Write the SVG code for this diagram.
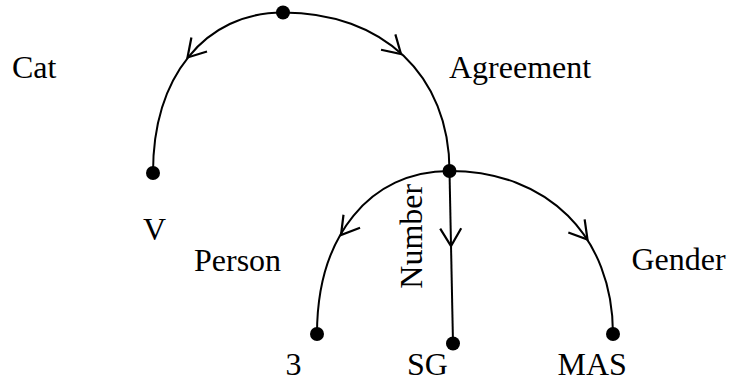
<svg xmlns="http://www.w3.org/2000/svg" xmlns:xlink="http://www.w3.org/1999/xlink" width="733" height="392" viewBox="0 0 733 392">
  <style>
    .edge { fill: none; stroke: #000; stroke-width: 2; }
    .head { fill: none; stroke: #000; stroke-width: 2.2; stroke-linejoin: miter; stroke-linecap: butt; }
    .dot { fill: #000; }
    .lbl { font-family: "Liberation Serif", "Times New Roman", serif; font-size: 32px; fill: #000; }
  </style>
  <defs>
    <path id="chev" class="head" d="M-17.5,-10.5 L0,0 L-17.5,10.5"/>
  </defs>
  <rect width="733" height="392" fill="#fff"/>

  <g id="connectors">
    <path class="edge" d="M283,12.5 C205,12.5 153,76.4 153,173"/>
    <path class="edge" d="M283,12.5 C382.6,12.5 449.5,75.2 449.5,171"/>
    <path class="edge" d="M449.5,171 C369.8,171 317,236.2 317,334"/>
    <path class="edge" d="M449.5,171 L453,343.5"/>
    <path class="edge" d="M449.5,171 C547.4,171 613,236.2 613,334"/>
    <use xlink:href="#chev" transform="translate(187.5,57.5) rotate(132)"/>
    <use xlink:href="#chev" transform="translate(401,54) rotate(43)"/>
    <use xlink:href="#chev" transform="translate(341,235) rotate(128)"/>
    <use xlink:href="#chev" transform="translate(451,246) rotate(89)"/>
    <use xlink:href="#chev" transform="translate(587.5,239.5) rotate(51)"/>
  </g>

  <g id="root"><circle class="dot" cx="283" cy="12.5" r="7"/></g>
  <g id="node-v">
    <circle class="dot" cx="153" cy="173" r="7"/>
    <text class="lbl" x="143" y="240">V</text>
  </g>
  <g id="node-agreement"><circle class="dot" cx="449.5" cy="171" r="7"/></g>
  <g id="node-3">
    <circle class="dot" cx="317" cy="334" r="7"/>
    <text class="lbl" x="285.5" y="375">3</text>
  </g>
  <g id="node-sg">
    <circle class="dot" cx="453" cy="343.5" r="7"/>
    <text class="lbl" x="407" y="375">SG</text>
  </g>
  <g id="node-mas">
    <circle class="dot" cx="613" cy="334" r="7"/>
    <text class="lbl" x="557.5" y="375">MAS</text>
  </g>

  <g id="edge-labels">
    <text class="lbl" x="12" y="78">Cat</text>
    <text class="lbl" x="449" y="78">Agreement</text>
    <text class="lbl" x="194" y="270.5">Person</text>
    <text class="lbl" transform="translate(422,288.7) rotate(-90)">Number</text>
    <text class="lbl" x="631.5" y="270">Gender</text>
  </g>
</svg>
